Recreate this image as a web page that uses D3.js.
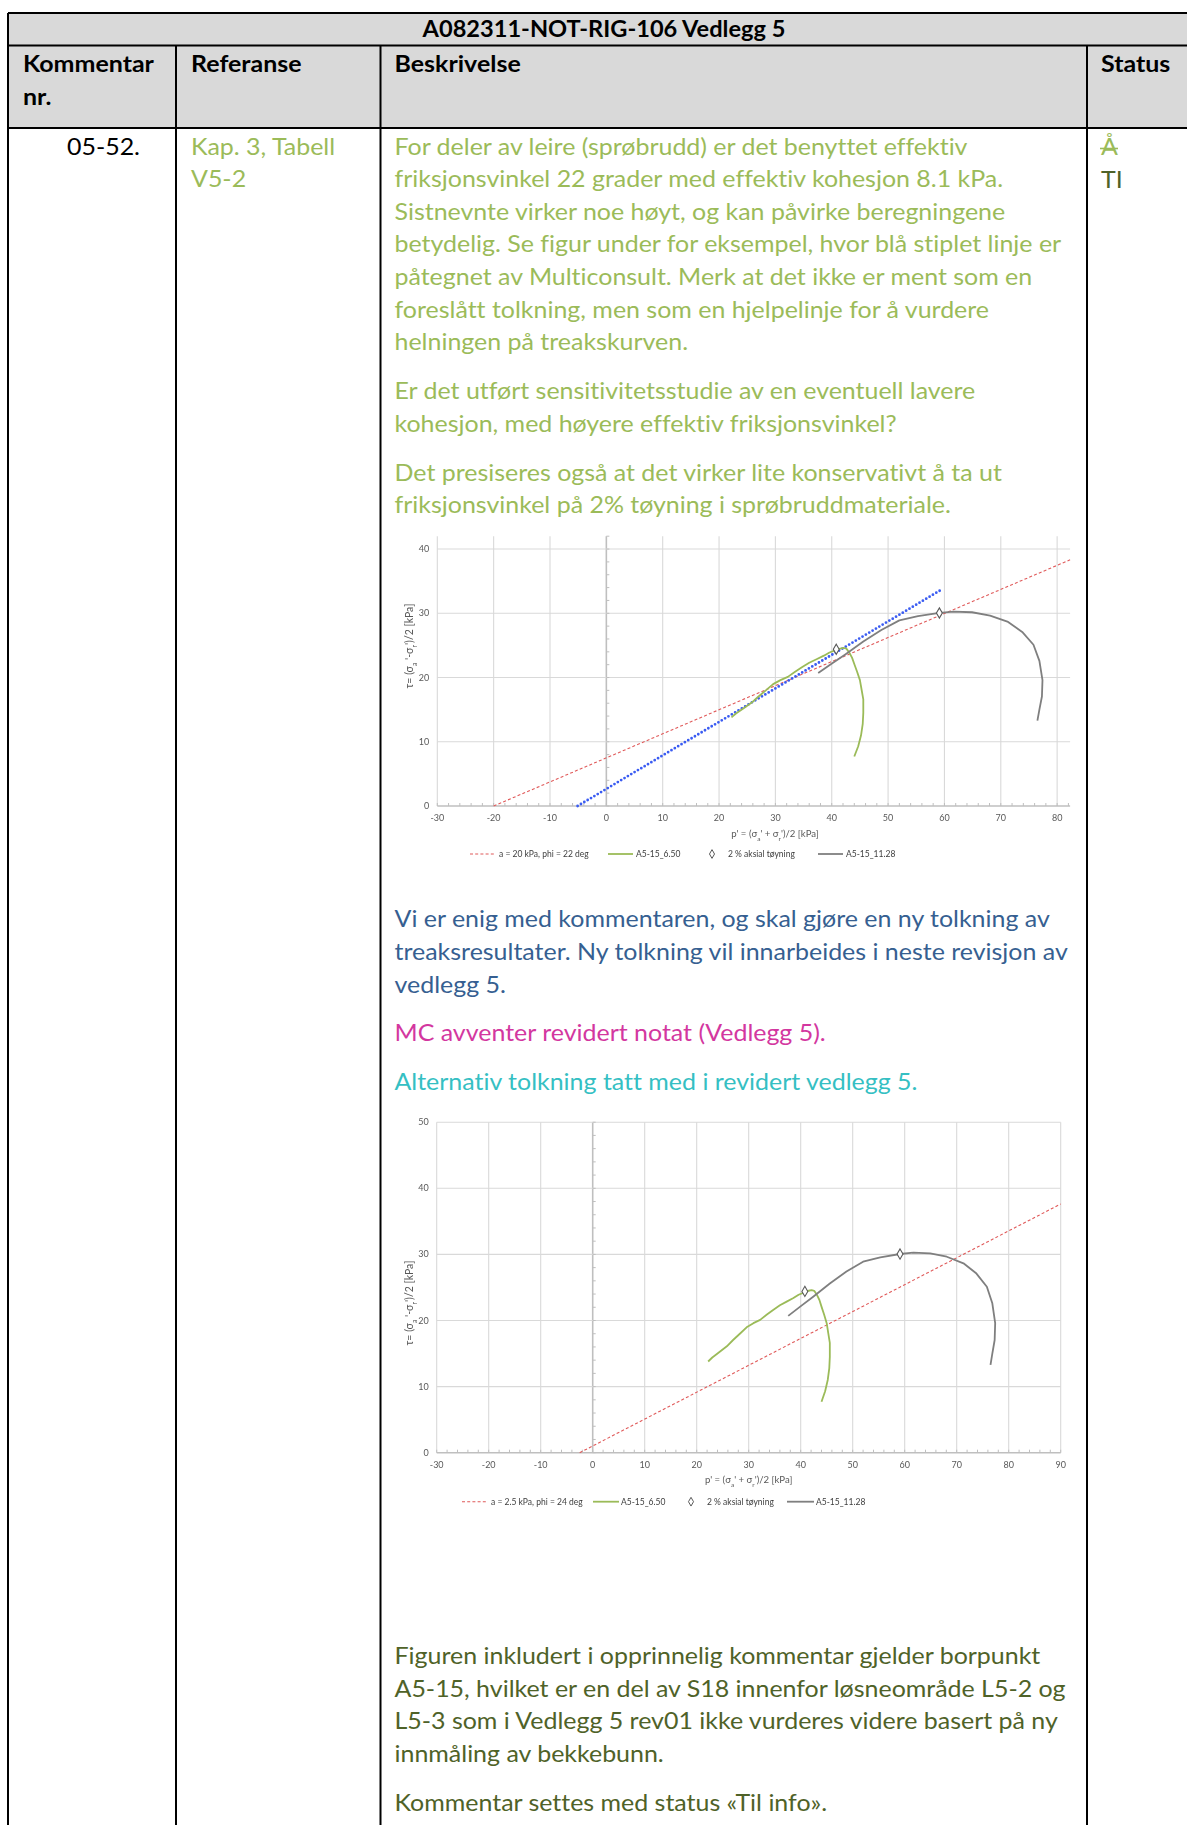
<!DOCTYPE html>
<html>
<head>
<meta charset="utf-8">
<script src="https://cdn.jsdelivr.net/npm/d3@7"></script>
<style>
  html, body { margin: 0; padding: 0; background: #fff; }
  svg { display: block; }
  text { font-variant-ligatures: none; font-feature-settings: "liga" 0, "clig" 0; }
</style>
</head>
<body>
<svg id="page" width="1187" height="1825"></svg>
<script>
// ---------- data ----------
// Stress path A5-15_6.50 : p' and tau [kPa]
const a650P   = [22.2, 23.0, 24.5, 25.8, 27.0, 28.3, 29.6, 30.9, 32.2, 33.5, 34.7, 36.0, 37.3, 38.6, 39.6, 40.8, 41.5, 42.1, 42.6, 43.1, 43.6, 44.0, 44.5, 45.0, 45.3, 45.6, 45.6, 45.5, 45.2, 44.7, 44.0];
const a650Tau = [13.8, 14.4, 15.3, 16.1, 17.05, 18.0, 18.97, 19.6, 20.1, 20.9, 21.6, 22.3, 22.85, 23.4, 23.9, 24.3, 24.5, 24.6, 24.5, 23.9, 23.1, 22.1, 20.9, 19.6, 18.1, 16.6, 14.5, 12.8, 11.0, 9.3, 7.7];
// Stress path A5-15_11.28
const a1128P   = [37.6, 39.9, 42.4, 45.6, 48.8, 52.0, 55.3, 59.1, 61.65, 64.9, 68.1, 71.3, 73.8, 75.8, 76.85, 77.4, 77.3, 76.85, 76.5];
const a1128Tau = [20.7, 22.1, 23.6, 25.6, 27.4, 28.9, 29.55, 30.06, 30.26, 30.16, 29.65, 28.65, 27.1, 25.1, 22.6, 19.6, 17.05, 15.0, 13.3];
// 2 % axial strain points
const strainP   = [40.8, 59.1];
const strainTau = [24.4, 30.05];
// helper line drawn in blue (first figure only)
const helperP   = [-5.1, 59.7];
const helperTau = [0, 33.8];
// strength envelopes: attraction a [kPa] and friction angle phi [deg]
const envA   = [20, 2.5];
const envPhi = [22, 24];
// axis ticks
const pTicks1   = [-30, -20, -10, 0, 10, 20, 30, 40, 50, 60, 70, 80];
const pTicks2   = [-30, -20, -10, 0, 10, 20, 30, 40, 50, 60, 70, 80, 90];
const tauTicks1 = [0, 10, 20, 30, 40];
const tauTicks2 = [0, 10, 20, 30, 40, 50];
const legendNames = ["A5-15_6.50", "2 % aksial tøyning", "A5-15_11.28"];

// ---------- text ----------
const titleText = "A082311-NOT-RIG-106 Vedlegg 5";
const headCols = ["Kommentar", "Referanse", "Beskrivelse", "Status"];
const para1 = ["For deler av leire (sprøbrudd) er det benyttet effektiv",
  "friksjonsvinkel 22 grader med effektiv kohesjon 8.1 kPa.",
  "Sistnevnte virker noe høyt, og kan påvirke beregningene",
  "betydelig. Se figur under for eksempel, hvor blå stiplet linje er",
  "påtegnet av Multiconsult. Merk at det ikke er ment som en",
  "foreslått tolkning, men som en hjelpelinje for å vurdere",
  "helningen på treakskurven."];
const para2 = ["Er det utført sensitivitetsstudie av en eventuell lavere",
  "kohesjon, med høyere effektiv friksjonsvinkel?"];
const para3 = ["Det presiseres også at det virker lite konservativt å ta ut",
  "friksjonsvinkel på 2% tøyning i sprøbruddmateriale."];
const para4 = ["Vi er enig med kommentaren, og skal gjøre en ny tolkning av",
  "treaksresultater. Ny tolkning vil innarbeides i neste revisjon av",
  "vedlegg 5."];
const para5 = ["MC avventer revidert notat (Vedlegg 5)."];
const para6 = ["Alternativ tolkning tatt med i revidert vedlegg 5."];
const para7 = ["Figuren inkludert i opprinnelig kommentar gjelder borpunkt",
  "A5-15, hvilket er en del av S18 innenfor løsneområde L5-2 og",
  "L5-3 som i Vedlegg 5 rev01 ikke vurderes videre basert på ny",
  "innmåling av bekkebunn."];
const para8 = ["Kommentar settes med status «Til info»."];

// ---------- page ----------
const svg = d3.select("#page");
const FONT = "Lato, 'Open Sans', sans-serif";
const BODY = 22.5;
const C = { green: "#9bbb59", blue: "#365f91", magenta: "#d3379f", teal: "#35bfc3", olive: "#4f6228" };

// horizontal scale factors so the text widths match the document layout
function measure(str, weight) {
  const t = svg.append("text").attr("font-family", FONT).attr("font-size", BODY)
    .attr("font-weight", weight).text(str);
  const w = t.node().getComputedTextLength();
  t.remove();
  return w;
}
const sxBody = 667 / measure(para1[3], "normal");
const sxBold = 131 / measure("Kommentar", "bold");
const sxTitle = 363 / measure(titleText, "bold");

function txt(g, str, x, y, opt = {}) {
  const sx = opt.sx || (opt.bold ? sxBold : sxBody);
  return g.append("text")
    .attr("transform", `translate(${x},${y}) scale(${sx},1)`)
    .attr("font-family", FONT).attr("font-size", opt.size || BODY)
    .attr("font-weight", opt.bold ? "bold" : "normal")
    .attr("text-anchor", opt.anchor || "start")
    .attr("fill", opt.color || "#000").text(str);
}

// table background + borders
const T = { left: 8, right: 1205, top: 13, titleB: 45.5, headB: 128, bottom: 1830 };
const colX = [176, 380.5, 1087];
svg.append("rect").attr("x", T.left).attr("y", T.top).attr("width", T.right - T.left)
  .attr("height", T.headB - T.top).attr("fill", "#d9d9d9");
const border = svg.append("g").attr("stroke", "#000").attr("stroke-width", 2);
[[T.left, T.top, T.right, T.top], [T.left, T.titleB, T.right, T.titleB], [T.left, T.headB, T.right, T.headB],
 [T.left, T.top, T.left, T.bottom]].forEach(d =>
  border.append("line").attr("x1", d[0]).attr("y1", d[1]).attr("x2", d[2]).attr("y2", d[3]));
colX.forEach(x => border.append("line").attr("x1", x).attr("y1", T.titleB).attr("x2", x).attr("y2", T.bottom));

const tg = svg.append("g");
txt(tg, titleText, 604, 37, { bold: true, anchor: "middle", sx: sxTitle });
txt(tg, headCols[0], 23, 72, { bold: true });
txt(tg, "nr.", 23, 105, { bold: true });
txt(tg, headCols[1], 191, 72, { bold: true });
txt(tg, headCols[2], 394.5, 72, { bold: true });
txt(tg, headCols[3], 1101, 72, { bold: true });

// body row
txt(tg, "05-52.", 140, 154.6, { anchor: "end" });
txt(tg, "Kap. 3, Tabell", 191, 154.6, { color: C.green });
txt(tg, "V5-2", 191, 187.2, { color: C.green });
txt(tg, "Å", 1101, 154.6, { color: C.green });
tg.append("line").attr("x1", 1100).attr("x2", 1118).attr("y1", 148.5).attr("y2", 148.5)
  .attr("stroke", C.green).attr("stroke-width", 1.6);
txt(tg, "TI", 1101, 187.5, { color: C.olive });

function para(lines, y0, color, step = 32.6) {
  lines.forEach((s, i) => txt(tg, s, 394.5, y0 + i * step, { color }));
}
para(para1, 154.6, C.green);
para(para2, 399, C.green);
para(para3, 480.5, C.green);
para(para4, 927.3, C.blue);
para(para5, 1041.4, C.magenta);
para(para6, 1090.2, C.teal);
para(para7, 1664, C.olive);
para(para8, 1810.6, C.olive);

// ---------- charts ----------
const defs = svg.append("defs");
defs.append("filter").attr("id", "soft").append("feGaussianBlur").attr("stdDeviation", 0.45);

function drawChart(cfg) {
  const { x, y, pTicks, tauTicks, env, helper, legendPos, titleX, titleY, yTitleX, yTitleY } = cfg;
  const g = svg.append("g").attr("filter", "url(#soft)");
  const [x0, x1] = x.range(); const [y0, y1] = y.range();
  const cf = "Lato, 'Liberation Sans', sans-serif";

  // grid
  const grid = g.append("g").attr("stroke", "#d9d9d9").attr("stroke-width", 1.1);
  pTicks.forEach(p => grid.append("line").attr("x1", x(p)).attr("x2", x(p)).attr("y1", y0).attr("y2", y1)
    .attr("stroke", p === 0 ? "#bfbfbf" : "#d9d9d9").attr("stroke-width", p === 0 ? 1.6 : 1.1));
  tauTicks.forEach(t => grid.append("line").attr("x1", x0).attr("x2", x1).attr("y1", y(t)).attr("y2", y(t))
    .attr("stroke", t === 0 ? "#bfbfbf" : "#d9d9d9").attr("stroke-width", t === 0 ? 1.4 : 1.1));

  // minor ticks every 2 kPa
  const minor = g.append("g").attr("stroke", "#bfbfbf").attr("stroke-width", 1);
  d3.range(pTicks[0], x.domain()[1] + 0.01, 2).forEach(p =>
    minor.append("line").attr("x1", x(p)).attr("x2", x(p)).attr("y1", y0).attr("y2", y0 - 3));
  d3.range(0, y.domain()[1] + 0.01, 2).forEach(t =>
    minor.append("line").attr("x1", x(0)).attr("x2", x(0) + 3).attr("y1", y(t)).attr("y2", y(t)));

  // tick labels
  const lab = g.append("g").attr("font-family", cf).attr("font-size", 9).attr("fill", "#595959");
  pTicks.forEach(p => lab.append("text").attr("x", x(p)).attr("y", y0 + 15).attr("text-anchor", "middle").text(p));
  tauTicks.forEach(t => lab.append("text").attr("x", x0 - 8).attr("y", y(t) + 3).attr("text-anchor", "end").text(t));

  // axis titles
  const xt = lab.append("text").attr("x", titleX).attr("y", titleY).attr("text-anchor", "middle")
    .attr("font-size", 9.6);
  xt.append("tspan").text("p' = (σ");
  xt.append("tspan").attr("font-size", 6.5).attr("baseline-shift", "sub").text("a");
  xt.append("tspan").text("' + σ");
  xt.append("tspan").attr("font-size", 6.5).attr("baseline-shift", "sub").text("r");
  xt.append("tspan").text("')/2 [kPa]");
  const yt = lab.append("text").attr("transform", `translate(${yTitleX},${yTitleY}) rotate(-90)`)
    .attr("text-anchor", "middle").attr("font-size", 10.5);
  yt.append("tspan").text("τ= (σ");
  yt.append("tspan").attr("font-size", 7).attr("baseline-shift", "sub").text("a");
  yt.append("tspan").text(" '-σ");
  yt.append("tspan").attr("font-size", 7).attr("baseline-shift", "sub").text("r");
  yt.append("tspan").text("')/2 [kPa]");

  // strength envelope tau = (p' + a) sin(phi)
  const sinPhi = Math.sin(env.phi * Math.PI / 180);
  const pEnd = x.domain()[1];
  g.append("line").attr("x1", x(-env.a)).attr("y1", y(0))
    .attr("x2", x(pEnd)).attr("y2", y((pEnd + env.a) * sinPhi))
    .attr("stroke", "#e05a5a").attr("stroke-width", 1.1).attr("stroke-dasharray", "3 2.2");

  const line = d3.line().x(d => x(d[0])).y(d => y(d[1]));
  if (helper) {
    g.append("path").attr("d", line(helperP.map((p, i) => [p, helperTau[i]])))
      .attr("fill", "none").attr("stroke", "#3a5cf2").attr("stroke-width", 2.8)
      .attr("stroke-linecap", "round").attr("stroke-dasharray", "0 3.9");
  }
  g.append("path").attr("d", line(a650P.map((p, i) => [p, a650Tau[i]])))
    .attr("fill", "none").attr("stroke", "#9bbb59").attr("stroke-width", 1.8).attr("stroke-linejoin", "round");
  g.append("path").attr("d", line(a1128P.map((p, i) => [p, a1128Tau[i]])))
    .attr("fill", "none").attr("stroke", "#7f7f7f").attr("stroke-width", 1.8).attr("stroke-linejoin", "round");

  const diamond = d3.symbol().type(d3.symbolDiamond).size(30);
  strainP.forEach((p, i) => g.append("path").attr("d", diamond())
    .attr("transform", `translate(${x(p)},${y(strainTau[i])})`)
    .attr("fill", "#fff").attr("stroke", "#595959").attr("stroke-width", 1.1));

  // legend
  const L = legendPos;
  const lg = g.append("g").attr("font-family", cf).attr("font-size", 8.5).attr("fill", "#404040");
  lg.append("line").attr("x1", L.red[0]).attr("x2", L.red[1]).attr("y1", L.y).attr("y2", L.y)
    .attr("stroke", "#e05a5a").attr("stroke-width", 1.1).attr("stroke-dasharray", "3 2.2");
  lg.append("text").attr("x", L.red[2]).attr("y", L.y + 3).text(`a = ${env.a} kPa, phi = ${env.phi} deg`);
  lg.append("line").attr("x1", L.green[0]).attr("x2", L.green[1]).attr("y1", L.y).attr("y2", L.y)
    .attr("stroke", "#9bbb59").attr("stroke-width", 1.8);
  lg.append("text").attr("x", L.green[2]).attr("y", L.y + 3).text(legendNames[0]);
  lg.append("path").attr("d", d3.symbol().type(d3.symbolDiamond).size(22)())
    .attr("transform", `translate(${L.dia[0]},${L.y})`).attr("fill", "#fff").attr("stroke", "#595959");
  lg.append("text").attr("x", L.dia[1]).attr("y", L.y + 3).text(legendNames[1]);
  lg.append("line").attr("x1", L.gray[0]).attr("x2", L.gray[1]).attr("y1", L.y).attr("y2", L.y)
    .attr("stroke", "#7f7f7f").attr("stroke-width", 1.8);
  lg.append("text").attr("x", L.gray[2]).attr("y", L.y + 3).text(legendNames[2]);
}

// first figure: envelope a = 20 kPa, phi = 22 deg, with blue helper line
drawChart({
  x: d3.scaleLinear().domain([-30, 82.3]).range([437.3, 1070.1]),
  y: d3.scaleLinear().domain([0, 42]).range([806, 536.2]),
  pTicks: pTicks1, tauTicks: tauTicks1,
  env: { a: envA[0], phi: envPhi[0] }, helper: true,
  legendPos: { y: 854, red: [470, 495, 499], green: [608, 633, 636], dia: [712, 728], gray: [818, 843, 846] },
  titleX: 775, titleY: 837, yTitleX: 413, yTitleY: 646
});

// second figure: envelope a = 2.5 kPa, phi = 24 deg
drawChart({
  x: d3.scaleLinear().domain([-30, 90]).range([436.7, 1060.7]),
  y: d3.scaleLinear().domain([0, 50]).range([1452.7, 1122.2]),
  pTicks: pTicks2, tauTicks: tauTicks2,
  env: { a: envA[1], phi: envPhi[1] }, helper: false,
  legendPos: { y: 1501.7, red: [462, 487, 491], green: [593, 619, 621], dia: [691, 707], gray: [787, 814, 816] },
  titleX: 748.7, titleY: 1483, yTitleX: 413, yTitleY: 1303
});
</script>
</body>
</html>
